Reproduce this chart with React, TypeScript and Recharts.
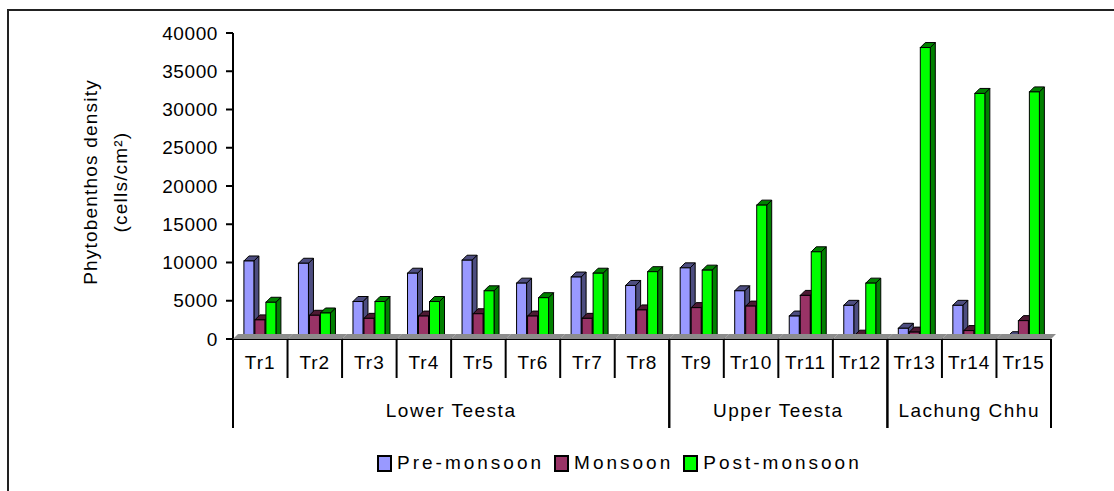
import { BarChart, Bar, XAxis, YAxis, Label } from "recharts";

const categories = ["Tr1", "Tr2", "Tr3", "Tr4", "Tr5", "Tr6", "Tr7", "Tr8", "Tr9", "Tr10", "Tr11", "Tr12", "Tr13", "Tr14", "Tr15"];
const groupNames = ["Lower Teesta", "Upper Teesta", "Lachung Chhu"];
const groupSizes = [8, 4, 3];

const preMonsoon = [10200, 9900, 4900, 8600, 10300, 7300, 8100, 7000, 9300, 6300, 3000, 4400, 1400, 4400, 300];
const monsoon = [2500, 3100, 2700, 3000, 3300, 3000, 2700, 3800, 4100, 4300, 5700, 500, 900, 1100, 2400];
const postMonsoon = [4800, 3400, 4900, 4900, 6300, 5400, 8600, 8800, 9000, 17500, 11400, 7300, 38100, 32100, 32300];

const yTicks = [0, 5000, 10000, 15000, 20000, 25000, 30000, 35000, 40000];

const series = [
  { key: "pre", name: "Pre-monsoon", fill: "#9999ff", side: "#4d4d80" },
  { key: "mon", name: "Monsoon", fill: "#993366", side: "#4d1a33" },
  { key: "post", name: "Post-monsoon", fill: "#00ff00", side: "#008000" }
];

const data = categories.map((name, i) => ({
  name,
  pre: preMonsoon[i],
  mon: monsoon[i],
  post: postMonsoon[i]
}));

// which category starts a group
const groupStarts: Record<number, number> = {};
let acc = 0;
groupSizes.forEach((n, g) => {
  groupStarts[acc] = g;
  acc += n;
});
const groupEnds = new Set<number>();
acc = 0;
groupSizes.forEach((n) => {
  acc += n;
  groupEnds.add(acc - 1);
});

const FONT = "'Liberation Sans', Arial, sans-serif";
const W = 1114;
const H = 491;
const PLOT_LEFT = 233;
const PLOT_RIGHT = 1051;
const PLOT_TOP = 33;
const PLOT_BOTTOM = 339;
const Y_AXIS_W = 80;
const X_AXIS_H = 100;
const BW = (PLOT_RIGHT - PLOT_LEFT) / categories.length;
const DEPTH = 5;

function Bar3D(props: any) {
  const { x, y, width, height, fill, side } = props;
  if (height == null || width == null) return null;
  const wf = width - 1;
  const d = DEPTH;
  return (
    <g stroke="#000" strokeWidth={1}>
      <polygon
        points={`${x + wf},${y} ${x + wf + d},${y - d} ${x + wf + d},${y + height - d} ${x + wf},${y + height}`}
        fill={side}
      />
      <polygon points={`${x},${y} ${x + d},${y - d} ${x + wf + d},${y - d} ${x + wf},${y}`} fill={side} />
      <rect x={x} y={y} width={wf} height={height} fill={fill} />
    </g>
  );
}

function CategoryTick(props: any) {
  const { x, payload, index } = props;
  const left = x - BW / 2;
  const right = x + BW / 2;
  const b = PLOT_BOTTOM;
  const g = groupStarts[index];
  return (
    <g>
      <polygon
        points={`${left},${b} ${left + DEPTH},${b - DEPTH} ${right + DEPTH},${b - DEPTH} ${right},${b}`}
        fill="#8c8c8c"
      />
      <text x={x} y={b + 30} textAnchor="middle" fontSize={19} fontFamily={FONT} fill="#000" letterSpacing={1}>
        {payload.value}
      </text>
      <line x1={right} y1={b} x2={right} y2={groupEnds.has(index) ? b + 89 : b + 39} stroke="#000" strokeWidth={2} />
      {g !== undefined && (
        <>
          <line x1={left} y1={b} x2={left} y2={b + 89} stroke="#000" strokeWidth={2} />
          <text
            x={left + (groupSizes[g] * BW) / 2}
            y={b + 78}
            textAnchor="middle"
            fontSize={19}
            fontFamily={FONT}
            fill="#000"
            letterSpacing={1.5}
          >
            {groupNames[g]}
          </text>
        </>
      )}
    </g>
  );
}

function YTitle() {
  const cy = 182;
  return (
    <g fontFamily={FONT} fontSize={19} fill="#000" letterSpacing={1.2}>
      <text x={90} y={cy} transform={`rotate(-90, 90, ${cy})`} textAnchor="middle" dominantBaseline="central">
        Phytobenthos density
      </text>
      <text x={120} y={cy} transform={`rotate(-90, 120, ${cy})`} textAnchor="middle" dominantBaseline="central">
        (cells/cm²)
      </text>
    </g>
  );
}

export default function App() {
  return (
    <div style={{ position: "absolute", left: 0, top: 0, width: W, height: H, background: "#fff", overflow: "hidden", fontFamily: FONT }}>
      <div
        style={{
          position: "absolute",
          left: 7,
          top: 9,
          width: W + 100,
          height: H + 100,
          borderTop: "2px solid #222",
          borderLeft: "2px solid #222"
        }}
      />
      <div style={{ position: "absolute", left: 0, top: 0 }}>
        <BarChart
          width={W}
          height={H}
          data={data}
          margin={{
            top: PLOT_TOP,
            left: PLOT_LEFT - Y_AXIS_W,
            right: W - PLOT_RIGHT,
            bottom: H - PLOT_BOTTOM - X_AXIS_H
          }}
          barCategoryGap="20%"
          barGap={0}
        >
          <XAxis
            dataKey="name"
            height={X_AXIS_H}
            interval={0}
            tickLine={false}
            axisLine={{ stroke: "#000", strokeWidth: 2 }}
            tick={<CategoryTick />}
          />
          <YAxis
            width={Y_AXIS_W}
            domain={[0, 40000]}
            ticks={yTicks}
            interval={0}
            tickSize={7}
            tickMargin={8}
            axisLine={{ stroke: "#000", strokeWidth: 2 }}
            tickLine={{ stroke: "#000", strokeWidth: 2 }}
            tick={{ fill: "#000", fontSize: 19, fontFamily: FONT, letterSpacing: 0.6 }}
          >
            <Label content={<YTitle />} />
          </YAxis>
          {series.map((s) => (
            <Bar
              key={s.key}
              dataKey={s.key}
              name={s.name}
              fill={s.fill}
              isAnimationActive={false}
              shape={(p: any) => <Bar3D {...p} fill={s.fill} side={s.side} />}
            />
          ))}
        </BarChart>
      </div>
      <div
        style={{
          position: "absolute",
          left: 377,
          top: 452,
          display: "flex",
          alignItems: "center",
          fontSize: 19,
          letterSpacing: 3,
          color: "#000",
          whiteSpace: "nowrap"
        }}
      >
        {series.map((s) => (
          <div key={s.key} style={{ display: "flex", alignItems: "center", marginRight: 10 }}>
            <span
              style={{
                display: "inline-block",
                width: 11,
                height: 13,
                background: s.fill,
                border: "2px solid #000",
                marginRight: 5
              }}
            />
            <span>{s.name}</span>
          </div>
        ))}
      </div>
    </div>
  );
}
